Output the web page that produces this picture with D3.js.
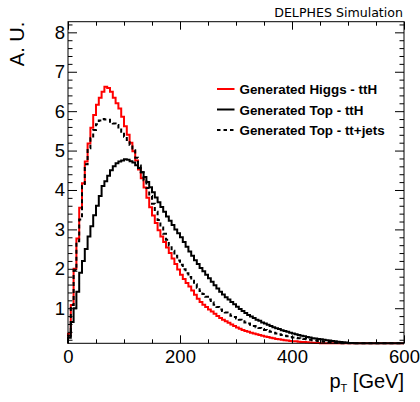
<!DOCTYPE html>
<html><head><meta charset="utf-8">
<script src="https://cdn.jsdelivr.net/npm/d3@7"></script>
<style>html,body{margin:0;padding:0;background:#fff;} svg{display:block;}</style>
</head><body>
<svg id="c" width="420" height="402"></svg>
<script>
// ---- data (bin lower edges in GeV, 5 GeV bins from 0 to 600) ----
const binEdges = d3.range(0, 601, 5);
const higgsTTH = [
 0.35,1.08,2.0,2.77,3.55,4.17,4.72,5.18,5.58,5.90,
 6.16,6.34,6.49,6.62,6.59,6.49,6.34,6.20,6.07,5.86,
 5.62,5.40,5.20,4.98,4.75,4.52,4.30,4.06,3.80,3.56,
 3.35,3.16,2.98,2.82,2.68,2.54,2.40,2.26,2.12,1.98,
 1.85,1.74,1.64,1.55,1.45,1.34,1.24,1.16,1.09,1.03,
 0.97,0.92,0.86,0.80,0.75,0.71,0.67,0.63,0.59,0.55,
 0.51,0.48,0.45,0.42,0.40,0.38,0.36,0.34,0.32,0.30,
 0.28,0.27,0.25,0.24,0.22,0.21,0.20,0.19,0.18,0.17,
 0.165,0.16,0.15,0.145,0.14,0.135,0.13,0.125,0.12,0.115,
 0.11,0.105,0.10,0.095,0.09,0.085,0.08,0.075,0.07,0.065,
 0.06,0.055,0.05,0.045,0.04,0.038,0.035,0.032,0.03,0.027,
 0.025,0.022,0.02,0.018,0.016,0.014,0.012,0.01,0.008,0.006];
const topTTH = [
 0.25,0.65,1.0,1.42,1.9,2.2,2.5,2.82,3.08,3.36,
 3.6,3.85,4.1,4.22,4.36,4.5,4.6,4.68,4.72,4.75,
 4.78,4.77,4.73,4.70,4.63,4.56,4.45,4.33,4.20,4.07,
 3.94,3.81,3.69,3.57,3.45,3.33,3.22,3.11,3.00,2.90,
 2.80,2.68,2.56,2.44,2.33,2.22,2.12,2.02,1.94,1.85,
 1.76,1.67,1.58,1.50,1.42,1.35,1.28,1.22,1.16,1.10,
 1.04,0.98,0.93,0.88,0.83,0.79,0.75,0.71,0.68,0.64,
 0.61,0.58,0.55,0.52,0.49,0.47,0.44,0.42,0.40,0.38,
 0.36,0.34,0.32,0.30,0.29,0.27,0.26,0.24,0.23,0.22,
 0.21,0.20,0.19,0.18,0.17,0.16,0.15,0.14,0.135,0.13,
 0.12,0.115,0.11,0.105,0.10,0.095,0.09,0.085,0.08,0.075,
 0.07,0.065,0.06,0.055,0.05,0.045,0.04,0.035,0.03,0.025];
const topTTJets = [
 0.3,1.08,1.95,2.7,3.25,4.1,4.65,5.06,5.31,5.52,
 5.67,5.76,5.80,5.79,5.78,5.73,5.69,5.65,5.56,5.48,
 5.35,5.27,5.14,5.01,4.82,4.62,4.45,4.25,4.05,3.85,
 3.65,3.45,3.24,3.05,2.89,2.74,2.59,2.46,2.33,2.21,
 2.10,1.99,1.89,1.79,1.70,1.61,1.52,1.44,1.36,1.29,
 1.22,1.15,1.09,1.03,0.97,0.93,0.89,0.85,0.81,0.78,
 0.74,0.71,0.67,0.64,0.61,0.58,0.55,0.52,0.50,0.47,
 0.45,0.43,0.40,0.38,0.36,0.34,0.32,0.30,0.29,0.27,
 0.26,0.25,0.24,0.23,0.22,0.21,0.20,0.19,0.18,0.17,
 0.16,0.15,0.145,0.14,0.13,0.125,0.12,0.11,0.105,0.10,
 0.095,0.09,0.085,0.08,0.075,0.07,0.065,0.06,0.055,0.05,
 0.045,0.04,0.035,0.032,0.03,0.027,0.025,0.022,0.02,0.018];
const seriesNames = ["Generated Higgs - ttH","Generated Top - ttH","Generated Top - tt+jets"];
const xMajorTicks = [0,200,400,600];
const xMinorTicks = [50,100,150,250,300,350,450,500,550];
const yMajorTicks = [1,2,3,4,5,6,7,8];
const yMinorTicks = d3.range(1,42).map(i => +(i*0.2).toFixed(1)).filter(v => !Number.isInteger(v));
const xTitle = "p", xTitleSub = "T", xTitleUnit = " [GeV]";
const yTitle = "A. U.";
const banner = "DELPHES Simulation";

// ---- layout ----
const L = 68, R = 404, T = 21.7, B = 343.3;
const svg = d3.select("#c");
const x = d3.scaleLinear().domain([0,600]).range([L,R]);
const y = d3.scaleLinear().domain([0.11,8.27]).range([B,T]).clamp(true);
const FONT = "'Liberation Sans', Arial, Helvetica, sans-serif";

function styleAxis(g){
  g.select(".domain").remove();
  g.selectAll(".tick line").attr("stroke","#000").attr("stroke-width",1);
  g.selectAll("text").attr("font-family",FONT).attr("fill","#000");
}

// histograms
function histPoints(vals){
  const pts = [[binEdges[0], 0]];
  vals.forEach((v,i)=>{ pts.push([binEdges[i], v]); pts.push([binEdges[i+1], v]); });
  pts.push([binEdges[binEdges.length-1], 0]);
  return pts;
}
const line = d3.line().x(d=>x(d[0])).y(d=>y(d[1]));
const series = [
  {vals: higgsTTH, color:"#ff0000", dash:null},
  {vals: topTTH, color:"#000000", dash:null},
  {vals: topTTJets, color:"#000000", dash:"4,3"}
];
svg.append("g").selectAll("path").data(series).join("path")
  .attr("d", d=>line(histPoints(d.vals)))
  .attr("fill","none").attr("stroke", d=>d.color).attr("stroke-width",2)
  .attr("stroke-dasharray", d=>d.dash).attr("stroke-linejoin","miter");

// axes: major/minor, mirrored
const fmt = d3.format("d");
svg.append("g").attr("transform",`translate(0,${B})`)
  .call(d3.axisBottom(x).tickValues(xMajorTicks).tickSize(-8).tickPadding(6.5).tickFormat(fmt))
  .call(styleAxis).selectAll("text").attr("font-size","18.5px");
svg.append("g").attr("transform",`translate(0,${B})`)
  .call(d3.axisBottom(x).tickValues(xMinorTicks).tickSize(-4).tickFormat(""))
  .call(styleAxis);
svg.append("g").attr("transform",`translate(0,${T})`)
  .call(d3.axisTop(x).tickValues(xMajorTicks).tickSize(-8).tickFormat(""))
  .call(styleAxis);
svg.append("g").attr("transform",`translate(0,${T})`)
  .call(d3.axisTop(x).tickValues(xMinorTicks).tickSize(-4).tickFormat(""))
  .call(styleAxis);
svg.append("g").attr("transform",`translate(${L},0)`)
  .call(d3.axisLeft(y).tickValues(yMajorTicks).tickSize(-9).tickPadding(3).tickFormat(fmt))
  .call(styleAxis).selectAll("text").attr("font-size","18.5px");
svg.append("g").attr("transform",`translate(${L},0)`)
  .call(d3.axisLeft(y).tickValues(yMinorTicks).tickSize(-4.5).tickFormat(""))
  .call(styleAxis);
svg.append("g").attr("transform",`translate(${R},0)`)
  .call(d3.axisRight(y).tickValues(yMajorTicks).tickSize(-9).tickFormat(""))
  .call(styleAxis);
svg.append("g").attr("transform",`translate(${R},0)`)
  .call(d3.axisRight(y).tickValues(yMinorTicks).tickSize(-4.5).tickFormat(""))
  .call(styleAxis);

// frame
svg.append("rect").attr("x",L).attr("y",T).attr("width",R-L).attr("height",B-T)
  .attr("fill","none").attr("stroke","#000").attr("stroke-width",1);

// titles
svg.append("text").attr("transform",`translate(24,${T}) rotate(-90)`)
  .attr("text-anchor","end").attr("font-family",FONT).attr("font-size","20px").text(yTitle);
const xt = svg.append("text").attr("x",R).attr("y",388).attr("text-anchor","end")
  .attr("font-family",FONT).attr("font-size","20px");
xt.append("tspan").text(xTitle);
xt.append("tspan").attr("font-size","11px").attr("dy",4).text(xTitleSub);
xt.append("tspan").attr("dy",-4).text(xTitleUnit);
svg.append("text").attr("x",403).attr("y",17).attr("text-anchor","end")
  .attr("font-family","'DejaVu Sans', sans-serif").attr("font-size","12.6px").text(banner);

// legend
const leg = svg.append("g").selectAll("g").data(series).join("g")
  .attr("transform",(d,i)=>`translate(0,${89 + i*20.5})`);
leg.append("line").attr("x1",217).attr("x2",234.5).attr("y1",0).attr("y2",0)
  .attr("stroke",d=>d.color).attr("stroke-width",2).attr("stroke-dasharray",d=>d.dash?"3.5,3":null);
leg.append("text").attr("x",239.5).attr("y",5.3).attr("font-family",FONT)
  .attr("font-weight","bold").attr("font-size","13.4px")
  .text((d,i)=>seriesNames[i]);
</script>
</body></html>
